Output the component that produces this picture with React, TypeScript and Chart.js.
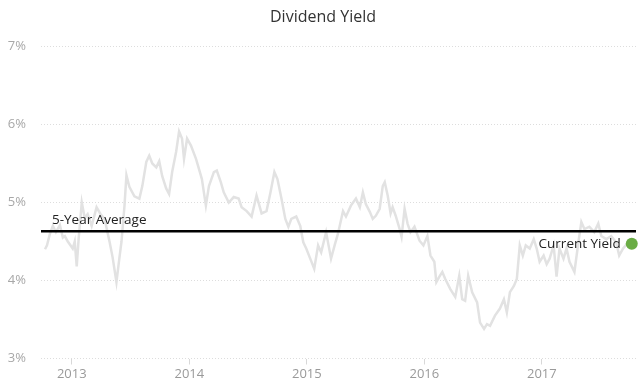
import React, { useEffect, useRef } from 'react';
import { Chart, registerables } from 'chart.js';

Chart.register(...registerables);

// Decimal-year dates
const dates = [
  2012.772, 2012.789, 2012.814, 2012.839, 2012.865, 2012.899, 2012.924, 2012.941, 2012.966, 2013.008,
  2013.025, 2013.042, 2013.059, 2013.085, 2013.110, 2013.135, 2013.169, 2013.211, 2013.245, 2013.279,
  2013.321, 2013.347, 2013.380, 2013.406, 2013.423, 2013.448, 2013.465, 2013.490, 2013.533, 2013.575,
  2013.600, 2013.634, 2013.659, 2013.685, 2013.719, 2013.744, 2013.769, 2013.803, 2013.828, 2013.854,
  2013.888, 2013.913, 2013.938, 2013.955, 2013.981, 2014.014, 2014.057, 2014.082, 2014.107, 2014.141,
  2014.167, 2014.209, 2014.234, 2014.268, 2014.293, 2014.336, 2014.378, 2014.420, 2014.445, 2014.488,
  2014.530, 2014.572, 2014.615, 2014.657, 2014.691, 2014.724, 2014.750, 2014.784, 2014.817, 2014.843,
  2014.868, 2014.910, 2014.944, 2014.970, 2014.995, 2015.029, 2015.063, 2015.096, 2015.122, 2015.164,
  2015.206, 2015.240, 2015.265, 2015.308, 2015.333, 2015.375, 2015.418, 2015.451, 2015.477, 2015.502,
  2015.536, 2015.561, 2015.587, 2015.620, 2015.646, 2015.663, 2015.688, 2015.713, 2015.730, 2015.756,
  2015.790, 2015.806, 2015.832, 2015.857, 2015.882, 2015.916, 2015.959, 2015.992, 2016.026, 2016.052,
  2016.085, 2016.102, 2016.128, 2016.153, 2016.178, 2016.221, 2016.263, 2016.297, 2016.322, 2016.347,
  2016.373, 2016.407, 2016.449, 2016.474, 2016.508, 2016.533, 2016.559, 2016.601, 2016.643, 2016.677,
  2016.702, 2016.728, 2016.762, 2016.787, 2016.812, 2016.838, 2016.863, 2016.897, 2016.931, 2016.956,
  2016.981, 2017.015, 2017.041, 2017.066, 2017.100, 2017.125, 2017.150, 2017.184, 2017.210, 2017.235,
  2017.277, 2017.311, 2017.336, 2017.362, 2017.404, 2017.446, 2017.480, 2017.506, 2017.548, 2017.590,
  2017.632, 2017.658, 2017.691, 2017.725, 2017.765,
];

// Dividend yield (%) at each date
const yields = [
  4.40, 4.45, 4.60, 4.70, 4.62, 4.71, 4.55, 4.57, 4.50, 4.41,
  4.50, 4.18, 4.55, 5.00, 4.80, 4.85, 4.70, 4.94, 4.85, 4.79,
  4.50, 4.30, 3.98, 4.30, 4.50, 4.95, 5.35, 5.20, 5.08, 5.05,
  5.21, 5.52, 5.60, 5.50, 5.45, 5.53, 5.34, 5.18, 5.11, 5.39,
  5.65, 5.91, 5.82, 5.56, 5.82, 5.73, 5.56, 5.43, 5.30, 4.96,
  5.21, 5.39, 5.41, 5.26, 5.13, 5.00, 5.07, 5.05, 4.94, 4.89,
  4.82, 5.09, 4.86, 4.89, 5.13, 5.39, 5.30, 5.05, 4.79, 4.69,
  4.79, 4.82, 4.70, 4.49, 4.41, 4.28, 4.15, 4.45, 4.36, 4.62,
  4.28, 4.47, 4.60, 4.89, 4.82, 4.96, 5.05, 4.94, 5.13, 4.98,
  4.88, 4.79, 4.83, 4.92, 5.21, 5.26, 5.09, 4.86, 4.94, 4.83,
  4.66, 4.56, 4.92, 4.73, 4.62, 4.69, 4.51, 4.45, 4.57, 4.32,
  4.24, 3.98, 4.05, 4.11, 4.02, 3.89, 3.79, 4.06, 3.76, 3.74,
  4.06, 3.85, 3.72, 3.46, 3.38, 3.44, 3.42, 3.55, 3.64, 3.76,
  3.59, 3.85, 3.93, 4.02, 4.45, 4.32, 4.45, 4.41, 4.53, 4.41,
  4.24, 4.32, 4.21, 4.28, 4.45, 4.05, 4.41, 4.28, 4.41, 4.24,
  4.11, 4.49, 4.75, 4.66, 4.69, 4.62, 4.73, 4.57, 4.53, 4.57,
  4.49, 4.32, 4.41, 4.47, 4.47,
];

const averageYield = 4.63;
const currentDate = 2017.765;
const currentYield = 4.47;
const yearTicks = [2013, 2014, 2015, 2016, 2017];
const yTicks = [3, 4, 5, 6, 7];
const xRange = [2012.738, 2017.801];

const FONT = '"Open Sans", "DejaVu Sans", sans-serif';

const labelsPlugin = {
  id: 'yieldLabels',
  afterDatasetsDraw(chart: any) {
    const { ctx, chartArea } = chart;
    const x = chart.scales.x;
    const y = chart.scales.y;
    ctx.save();
    ctx.fillStyle = '#333333';
    ctx.font = `16px ${FONT}`;
    ctx.textAlign = 'center';
    ctx.textBaseline = 'middle';
    ctx.fillText('Dividend Yield', chart.width / 2 + 2, 17);

    ctx.font = `13.5px ${FONT}`;
    ctx.fillStyle = '#222222';
    ctx.textAlign = 'left';
    ctx.textBaseline = 'alphabetic';
    ctx.fillText('5-Year Average', chartArea.left + 11, y.getPixelForValue(averageYield) - 7);

    ctx.textAlign = 'right';
    ctx.textBaseline = 'middle';
    ctx.fillText('Current Yield', x.getPixelForValue(currentDate) - 11, y.getPixelForValue(currentYield));
    ctx.restore();
  },
};

export default function App() {
  const ref = useRef<HTMLCanvasElement>(null);

  useEffect(() => {
    document.body.style.margin = '0';
    const canvas = ref.current;
    if (!canvas) return;
    const chart = new Chart(canvas, {
      type: 'line',
      data: {
        datasets: [
          {
            data: dates.map((d, i) => ({ x: d, y: yields[i] })),
            borderColor: '#e2e2e2',
            borderWidth: 2.5,
            pointRadius: 0,
            tension: 0,
            fill: false,
            order: 3,
          },
          {
            data: [
              { x: xRange[0], y: averageYield },
              { x: xRange[1], y: averageYield },
            ],
            borderColor: '#000000',
            borderWidth: 2.5,
            pointRadius: 0,
            fill: false,
            order: 2,
          },
          {
            data: [{ x: currentDate, y: currentYield }],
            borderColor: '#6aac45',
            backgroundColor: '#6aac45',
            pointRadius: 6,
            pointBorderWidth: 0,
            showLine: false,
            clip: false,
            order: 1,
          },
        ],
      },
      options: {
        responsive: false,
        animation: false,
        layout: { padding: { top: 46.5, right: 2, left: 0, bottom: 0 } },
        plugins: {
          legend: { display: false },
          tooltip: { enabled: false },
          title: { display: false },
        },
        scales: {
          x: {
            type: 'linear',
            min: xRange[0],
            max: xRange[1],
            afterBuildTicks: (scale: any) => {
              scale.ticks = yearTicks.map((v) => ({ value: v }));
            },
            afterFit: (scale: any) => {
              scale.height = 30.5;
            },
            grid: {
              drawOnChartArea: false,
              drawTicks: true,
              tickLength: 6,
              color: '#d8d8d8',
            },
            border: { display: false },
            ticks: {
              color: '#9a9a9a',
              font: { family: FONT, size: 13 },
              padding: 2,
              maxRotation: 0,
              callback: (v: any) => String(v),
            },
          },
          y: {
            min: 3,
            max: 7,
            afterBuildTicks: (scale: any) => {
              scale.ticks = yTicks.map((v) => ({ value: v }));
            },
            afterFit: (scale: any) => {
              scale.width = 41;
            },
            grid: {
              drawTicks: false,
              color: '#dddddd',
              lineWidth: 1,
            },
            border: { display: false, dash: [1, 2] },
            ticks: {
              color: '#a8a8a8',
              font: { family: FONT, size: 13 },
              padding: 15,
              callback: (v: any) => `${v}%`,
            },
          },
        },
      },
      plugins: [labelsPlugin],
    });
    return () => chart.destroy();
  }, []);

  return (
    <div style={{ width: 642, height: 389 }}>
      <canvas ref={ref} width={642} height={389} style={{ display: 'block' }} />
    </div>
  );
}
